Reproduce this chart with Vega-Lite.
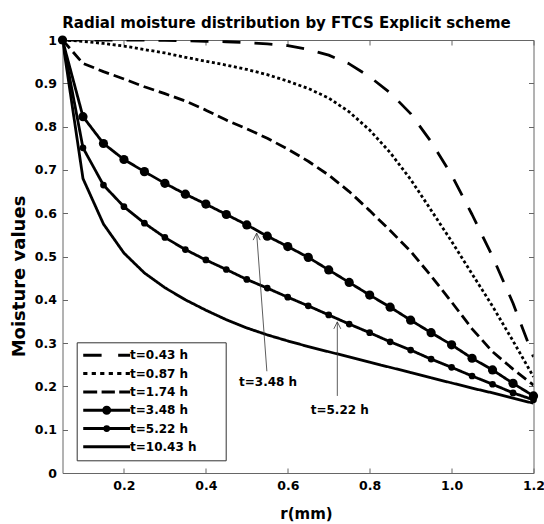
{
  "$schema": "https://vega.github.io/schema/vega-lite/v6.json",
  "width": 471,
  "height": 433,
  "autosize": "none",
  "padding": {"left": 62.5, "top": 40, "right": 10.5, "bottom": 51},
  "background": "white",
  "title": {"text": "Radial moisture distribution by FTCS Explicit scheme", "font": "DejaVu Sans", "fontWeight": "bold", "fontSize": 15, "color": "black", "anchor": "middle", "frame": "group", "baseline": "alphabetic", "offset": 13, "dx": -11.5, "dy": 22},
  "config": {
    "view": {"stroke": null},
    "font": "DejaVu Sans",
    "axis": {"domainColor": "#666", "tickColor": "#666", "tickSize": -5, "grid": false, "domainWidth": 1, "tickWidth": 1, "labelFont": "DejaVu Sans", "labelFontWeight": "bold", "labelFontSize": 12.5, "labelColor": "black", "titleFont": "DejaVu Sans", "titleFontWeight": "bold", "titleColor": "black", "labelFlush": false, "labelOverlap": false}
  },
  "datasets": {
    "curves": [
      {"s": "t=0.43 h", "r": 0.05, "m": 1.0}, {"s": "t=0.43 h", "r": 0.1, "m": 1.0}, {"s": "t=0.43 h", "r": 0.15, "m": 1.0}, {"s": "t=0.43 h", "r": 0.2, "m": 1.0}, {"s": "t=0.43 h", "r": 0.25, "m": 1.0}, {"s": "t=0.43 h", "r": 0.3, "m": 0.999}, {"s": "t=0.43 h", "r": 0.35, "m": 0.998}, {"s": "t=0.43 h", "r": 0.4, "m": 0.997}, {"s": "t=0.43 h", "r": 0.45, "m": 0.996}, {"s": "t=0.43 h", "r": 0.5, "m": 0.994}, {"s": "t=0.43 h", "r": 0.55, "m": 0.991}, {"s": "t=0.43 h", "r": 0.6, "m": 0.987}, {"s": "t=0.43 h", "r": 0.65, "m": 0.978}, {"s": "t=0.43 h", "r": 0.7, "m": 0.965}, {"s": "t=0.43 h", "r": 0.75, "m": 0.945}, {"s": "t=0.43 h", "r": 0.8, "m": 0.915}, {"s": "t=0.43 h", "r": 0.85, "m": 0.878}, {"s": "t=0.43 h", "r": 0.9, "m": 0.83}, {"s": "t=0.43 h", "r": 0.95, "m": 0.765}, {"s": "t=0.43 h", "r": 1.0, "m": 0.688}, {"s": "t=0.43 h", "r": 1.05, "m": 0.597}, {"s": "t=0.43 h", "r": 1.1, "m": 0.5}, {"s": "t=0.43 h", "r": 1.15, "m": 0.392}, {"s": "t=0.43 h", "r": 1.2, "m": 0.268},
      {"s": "t=0.87 h", "r": 0.05, "m": 1.0}, {"s": "t=0.87 h", "r": 0.1, "m": 0.997}, {"s": "t=0.87 h", "r": 0.15, "m": 0.992}, {"s": "t=0.87 h", "r": 0.2, "m": 0.986}, {"s": "t=0.87 h", "r": 0.25, "m": 0.978}, {"s": "t=0.87 h", "r": 0.3, "m": 0.97}, {"s": "t=0.87 h", "r": 0.35, "m": 0.96}, {"s": "t=0.87 h", "r": 0.4, "m": 0.951}, {"s": "t=0.87 h", "r": 0.45, "m": 0.942}, {"s": "t=0.87 h", "r": 0.5, "m": 0.932}, {"s": "t=0.87 h", "r": 0.55, "m": 0.92}, {"s": "t=0.87 h", "r": 0.6, "m": 0.905}, {"s": "t=0.87 h", "r": 0.65, "m": 0.888}, {"s": "t=0.87 h", "r": 0.7, "m": 0.866}, {"s": "t=0.87 h", "r": 0.75, "m": 0.834}, {"s": "t=0.87 h", "r": 0.8, "m": 0.792}, {"s": "t=0.87 h", "r": 0.85, "m": 0.74}, {"s": "t=0.87 h", "r": 0.9, "m": 0.678}, {"s": "t=0.87 h", "r": 0.95, "m": 0.607}, {"s": "t=0.87 h", "r": 1.0, "m": 0.535}, {"s": "t=0.87 h", "r": 1.05, "m": 0.46}, {"s": "t=0.87 h", "r": 1.1, "m": 0.385}, {"s": "t=0.87 h", "r": 1.15, "m": 0.305}, {"s": "t=0.87 h", "r": 1.2, "m": 0.222},
      {"s": "t=1.74 h", "r": 0.05, "m": 1.0}, {"s": "t=1.74 h", "r": 0.1, "m": 0.946}, {"s": "t=1.74 h", "r": 0.15, "m": 0.927}, {"s": "t=1.74 h", "r": 0.2, "m": 0.91}, {"s": "t=1.74 h", "r": 0.25, "m": 0.892}, {"s": "t=1.74 h", "r": 0.3, "m": 0.876}, {"s": "t=1.74 h", "r": 0.35, "m": 0.859}, {"s": "t=1.74 h", "r": 0.4, "m": 0.838}, {"s": "t=1.74 h", "r": 0.45, "m": 0.815}, {"s": "t=1.74 h", "r": 0.5, "m": 0.795}, {"s": "t=1.74 h", "r": 0.55, "m": 0.773}, {"s": "t=1.74 h", "r": 0.6, "m": 0.748}, {"s": "t=1.74 h", "r": 0.65, "m": 0.72}, {"s": "t=1.74 h", "r": 0.7, "m": 0.688}, {"s": "t=1.74 h", "r": 0.75, "m": 0.65}, {"s": "t=1.74 h", "r": 0.8, "m": 0.606}, {"s": "t=1.74 h", "r": 0.85, "m": 0.56}, {"s": "t=1.74 h", "r": 0.9, "m": 0.512}, {"s": "t=1.74 h", "r": 0.95, "m": 0.455}, {"s": "t=1.74 h", "r": 1.0, "m": 0.395}, {"s": "t=1.74 h", "r": 1.05, "m": 0.333}, {"s": "t=1.74 h", "r": 1.1, "m": 0.28}, {"s": "t=1.74 h", "r": 1.15, "m": 0.24}, {"s": "t=1.74 h", "r": 1.2, "m": 0.203},
      {"s": "t=3.48 h", "r": 0.05, "m": 1.0}, {"s": "t=3.48 h", "r": 0.1, "m": 0.823}, {"s": "t=3.48 h", "r": 0.15, "m": 0.761}, {"s": "t=3.48 h", "r": 0.2, "m": 0.724}, {"s": "t=3.48 h", "r": 0.25, "m": 0.696}, {"s": "t=3.48 h", "r": 0.3, "m": 0.669}, {"s": "t=3.48 h", "r": 0.35, "m": 0.644}, {"s": "t=3.48 h", "r": 0.4, "m": 0.621}, {"s": "t=3.48 h", "r": 0.45, "m": 0.597}, {"s": "t=3.48 h", "r": 0.5, "m": 0.573}, {"s": "t=3.48 h", "r": 0.55, "m": 0.547}, {"s": "t=3.48 h", "r": 0.6, "m": 0.523}, {"s": "t=3.48 h", "r": 0.65, "m": 0.498}, {"s": "t=3.48 h", "r": 0.7, "m": 0.469}, {"s": "t=3.48 h", "r": 0.75, "m": 0.44}, {"s": "t=3.48 h", "r": 0.8, "m": 0.411}, {"s": "t=3.48 h", "r": 0.85, "m": 0.383}, {"s": "t=3.48 h", "r": 0.9, "m": 0.353}, {"s": "t=3.48 h", "r": 0.95, "m": 0.324}, {"s": "t=3.48 h", "r": 1.0, "m": 0.296}, {"s": "t=3.48 h", "r": 1.05, "m": 0.265}, {"s": "t=3.48 h", "r": 1.1, "m": 0.238}, {"s": "t=3.48 h", "r": 1.15, "m": 0.207}, {"s": "t=3.48 h", "r": 1.2, "m": 0.178},
      {"s": "t=5.22 h", "r": 0.05, "m": 1.0}, {"s": "t=5.22 h", "r": 0.1, "m": 0.751}, {"s": "t=5.22 h", "r": 0.15, "m": 0.665}, {"s": "t=5.22 h", "r": 0.2, "m": 0.615}, {"s": "t=5.22 h", "r": 0.25, "m": 0.577}, {"s": "t=5.22 h", "r": 0.3, "m": 0.544}, {"s": "t=5.22 h", "r": 0.35, "m": 0.516}, {"s": "t=5.22 h", "r": 0.4, "m": 0.492}, {"s": "t=5.22 h", "r": 0.45, "m": 0.47}, {"s": "t=5.22 h", "r": 0.5, "m": 0.447}, {"s": "t=5.22 h", "r": 0.55, "m": 0.427}, {"s": "t=5.22 h", "r": 0.6, "m": 0.406}, {"s": "t=5.22 h", "r": 0.65, "m": 0.386}, {"s": "t=5.22 h", "r": 0.7, "m": 0.365}, {"s": "t=5.22 h", "r": 0.75, "m": 0.344}, {"s": "t=5.22 h", "r": 0.8, "m": 0.324}, {"s": "t=5.22 h", "r": 0.85, "m": 0.303}, {"s": "t=5.22 h", "r": 0.9, "m": 0.284}, {"s": "t=5.22 h", "r": 0.95, "m": 0.263}, {"s": "t=5.22 h", "r": 1.0, "m": 0.244}, {"s": "t=5.22 h", "r": 1.05, "m": 0.224}, {"s": "t=5.22 h", "r": 1.1, "m": 0.205}, {"s": "t=5.22 h", "r": 1.15, "m": 0.185}, {"s": "t=5.22 h", "r": 1.2, "m": 0.169},
      {"s": "t=10.43 h", "r": 0.05, "m": 1.0}, {"s": "t=10.43 h", "r": 0.1, "m": 0.68}, {"s": "t=10.43 h", "r": 0.15, "m": 0.575}, {"s": "t=10.43 h", "r": 0.2, "m": 0.508}, {"s": "t=10.43 h", "r": 0.25, "m": 0.462}, {"s": "t=10.43 h", "r": 0.3, "m": 0.428}, {"s": "t=10.43 h", "r": 0.35, "m": 0.4}, {"s": "t=10.43 h", "r": 0.4, "m": 0.376}, {"s": "t=10.43 h", "r": 0.45, "m": 0.354}, {"s": "t=10.43 h", "r": 0.5, "m": 0.335}, {"s": "t=10.43 h", "r": 0.55, "m": 0.319}, {"s": "t=10.43 h", "r": 0.6, "m": 0.305}, {"s": "t=10.43 h", "r": 0.65, "m": 0.292}, {"s": "t=10.43 h", "r": 0.7, "m": 0.28}, {"s": "t=10.43 h", "r": 0.75, "m": 0.268}, {"s": "t=10.43 h", "r": 0.8, "m": 0.256}, {"s": "t=10.43 h", "r": 0.85, "m": 0.244}, {"s": "t=10.43 h", "r": 0.9, "m": 0.232}, {"s": "t=10.43 h", "r": 0.95, "m": 0.22}, {"s": "t=10.43 h", "r": 1.0, "m": 0.208}, {"s": "t=10.43 h", "r": 1.05, "m": 0.196}, {"s": "t=10.43 h", "r": 1.1, "m": 0.185}, {"s": "t=10.43 h", "r": 1.15, "m": 0.173}, {"s": "t=10.43 h", "r": 1.2, "m": 0.161}
    ],
    "notes": [
      {"label": "t=3.48 h", "x1": 0.549, "y1": 0.235, "x2": 0.524, "y2": 0.554, "tx": 0.552, "ty": 0.211},
      {"label": "t=5.22 h", "x1": 0.721, "y1": 0.178, "x2": 0.721, "y2": 0.349, "tx": 0.727, "ty": 0.145}
    ]
  },
  "layer": [
    {
      "data": {"name": "curves"},
      "mark": {"type": "line", "strokeWidth": 2.8, "strokeCap": "butt", "strokeJoin": "round", "color": "black", "clip": true},
      "encoding": {
        "x": {"field": "r", "type": "quantitative", "scale": {"domain": [0.05, 1.2], "nice": false, "zero": false},
              "axis": {"orient": "bottom", "values": [0.2, 0.4, 0.6, 0.8, 1.0, 1.2], "format": ".1f", "title": "r(mm)", "titleFontSize": 15, "labelPadding": 11, "titlePadding": 15, "titleX": 243.5}},
        "y": {"field": "m", "type": "quantitative", "scale": {"domain": [0, 1], "nice": false, "zero": false},
              "axis": {"orient": "left", "values": [0, 0.1, 0.2, 0.3, 0.4, 0.5, 0.6, 0.7, 0.8, 0.9, 1], "format": "~g", "title": "Moisture values", "titleFontSize": 18, "labelPadding": 11, "titlePadding": 6, "titleY": 236}},
        "strokeDash": {"field": "s", "type": "nominal",
              "scale": {"domain": ["t=10.43 h", "t=5.22 h", "t=3.48 h", "t=1.74 h", "t=0.87 h", "t=0.43 h"], "range": [[1, 0], [1, 0], [1, 0], [11, 5], [3, 2.6], [18, 14]]},
              "legend": null}
      }
    },
    {
      "data": {"name": "curves"},
      "transform": [{"filter": "datum.s == 't=3.48 h' || datum.s == 't=5.22 h'"}],
      "mark": {"type": "point", "filled": true, "color": "black", "opacity": 1},
      "encoding": {
        "x": {"field": "r", "type": "quantitative", "scale": {"domain": [0.05, 1.2], "nice": false, "zero": false}, "axis": null},
        "y": {"field": "m", "type": "quantitative", "scale": {"domain": [0, 1], "nice": false, "zero": false}, "axis": null},
        "size": {"field": "s", "type": "ordinal", "scale": {"domain": ["t=3.48 h", "t=5.22 h"], "range": [85, 45]}, "legend": null}
      }
    },
    {
      "data": {"values": []},
      "mark": {"type": "point", "filled": false, "color": "black", "strokeWidth": 3, "opacity": 1},
      "encoding": {
        "x": {"field": "r", "type": "quantitative", "scale": {"domain": [0.05, 1.2], "nice": false, "zero": false}, "axis": null},
        "y": {"field": "m", "type": "quantitative", "scale": {"domain": [0, 1], "nice": false, "zero": false}, "axis": null},
        "shape": {"field": "s", "type": "nominal",
          "scale": {"domain": ["t=0.43 h", "t=0.87 h", "t=1.74 h", "t=3.48 h", "t=5.22 h", "t=10.43 h"],
                    "range": ["M-3.13,0L-0.68,0M1.53,0L3.13,0M0,-0.4L0,-0.4M0,0.4L0,0.4",
                              "M-3.13,0L-2.57,0M-2,0L-1.44,0M-0.87,0L-0.31,0M0.27,0L0.83,0M1.4,0L1.96,0M2.53,0L3.09,0M0,-0.4L0,-0.4M0,0.4L0,0.4",
                              "M-3.13,0L-1.27,0M-0.68,0L1.09,0M1.67,0L3.13,0M0,-0.4L0,-0.4M0,0.4L0,0.4",
                              "M-3.13,0L3.13,0M-0.4,0A0.4,0.4,0,1,0,0.4,0A0.4,0.4,0,1,0,-0.4,0M-0.1,0A0.1,0.1,0,1,0,0.1,0A0.1,0.1,0,1,0,-0.1,0M0,-0.4L0,-0.4M0,0.4L0,0.4",
                              "M-3.13,0L3.13,0M-0.25,0A0.25,0.25,0,1,0,0.25,0A0.25,0.25,0,1,0,-0.25,0M0,-0.4L0,-0.4M0,0.4L0,0.4",
                              "M-3.13,0L3.13,0M0,-0.4L0,-0.4M0,0.4L0,0.4"]},
          "legend": {"orient": "none", "legendX": 14.2, "legendY": 302.3, "title": null, "symbolSize": 225, "symbolStrokeWidth": 3, "symbolOpacity": 1, "symbolStrokeColor": "black", "symbolOffset": 17, "rowPadding": 0.3, "padding": 4, "labelOffset": 14.3, "labelFont": "DejaVu Sans", "labelFontWeight": "bold", "labelFontSize": 12, "labelColor": "black", "strokeColor": "#333", "fillColor": "white",
                     "labelExpr": "datum.label + '\u00a0\u00a0\u00a0\u00a0\u00a0\u00a0\u200b'",
                     "encode": {"symbols": {"stroke": {"value": "black"}, "strokeWidth": {"value": 3}, "strokeCap": {"value": "butt"}, "fill": {"value": "transparent"}}}}
        }
      }
    },
    {
      "data": {"name": "notes"},
      "mark": {"type": "rule", "color": "#333", "strokeWidth": 0.8},
      "encoding": {
        "x": {"field": "x1", "type": "quantitative", "scale": {"domain": [0.05, 1.2], "nice": false, "zero": false},
              "axis": {"orient": "top", "values": [0.2, 0.4, 0.6, 0.8, 1.0, 1.2], "labels": false, "title": null}},
        "y": {"field": "y1", "type": "quantitative", "scale": {"domain": [0, 1], "nice": false, "zero": false},
              "axis": {"orient": "right", "values": [0, 0.1, 0.2, 0.3, 0.4, 0.5, 0.6, 0.7, 0.8, 0.9, 1], "labels": false, "title": null}},
        "x2": {"field": "x2"},
        "y2": {"field": "y2"}
      }
    },
    {
      "data": {"name": "notes"},
      "mark": {"type": "point", "shape": "M-0.5,1L0,0L0.5,1", "filled": false, "color": "#333", "strokeWidth": 0.8, "size": 196, "opacity": 1},
      "encoding": {
        "x": {"field": "x2", "type": "quantitative", "scale": {"domain": [0.05, 1.2], "nice": false, "zero": false}, "axis": null},
        "y": {"field": "y2", "type": "quantitative", "scale": {"domain": [0, 1], "nice": false, "zero": false}, "axis": null}
      }
    },
    {
      "data": {"name": "notes"},
      "mark": {"type": "text", "font": "DejaVu Sans", "fontWeight": "bold", "fontSize": 12, "color": "black", "align": "center", "baseline": "middle"},
      "encoding": {
        "x": {"field": "tx", "type": "quantitative", "scale": {"domain": [0.05, 1.2], "nice": false, "zero": false}, "axis": null},
        "y": {"field": "ty", "type": "quantitative", "scale": {"domain": [0, 1], "nice": false, "zero": false}, "axis": null},
        "text": {"field": "label"}
      }
    }
  ],
  "resolve": {"axis": {"x": "independent", "y": "independent"}}
}
